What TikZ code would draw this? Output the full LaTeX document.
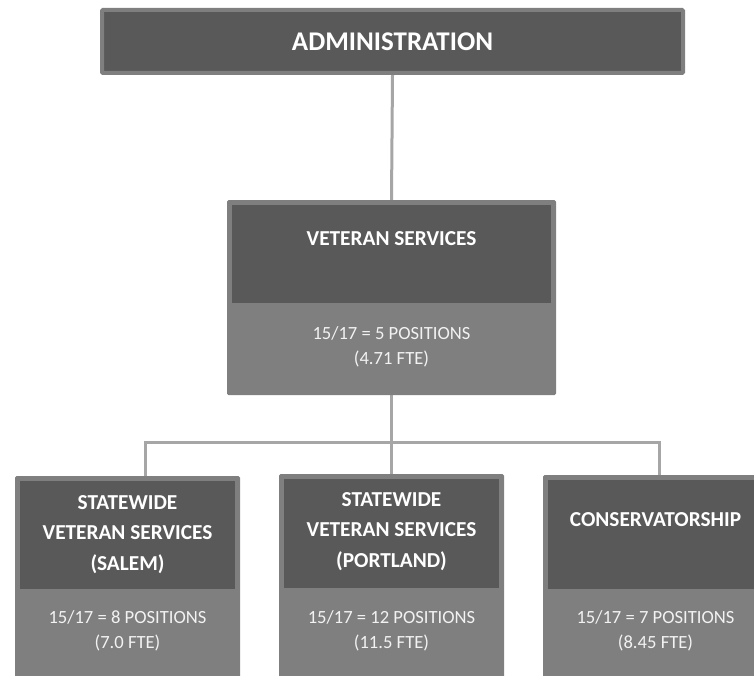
\documentclass[tikz,border=0pt]{standalone}
\usepackage{fontspec}
\setmainfont{Carlito}
\usetikzlibrary{positioning,backgrounds}
\definecolor{cdark}{HTML}{595959}
\definecolor{clight}{HTML}{7F7F7F}
\definecolor{cline}{HTML}{A6A6A6}
\definecolor{ctext}{HTML}{F2F2F2}

\begin{document}
\begin{tikzpicture}[x=1pt,y=-1pt,
  unitbox/.style={fill=clight,rounded corners=1.5pt,inner sep=0pt,anchor=north},
  headbox/.style={fill=cdark,inner sep=0pt},
  lbl/.style={text=white,font=\fontsize{21.3}{30.5}\selectfont\bfseries,align=center},
  stat/.style={text=ctext,font=\fontsize{18.6}{25}\selectfont,align=center},
  link/.style={draw=cline,line width=3pt}]
  \useasboundingbox (0,0) rectangle (754,676);
  \clip (0,0) rectangle (754,676);
  % top level
  \node[fill=cdark,draw=clight,line width=4pt,rounded corners=1pt,
        minimum width=581pt,minimum height=63pt,text=white,
        font=\fontsize{27}{30}\selectfont\bfseries] (admin) at (392.5,41.5) {ADMINISTRATION};
  % veteran services
  \node[unitbox,minimum width=329pt,minimum height=195pt] (vet) at (391.5,200) {};
  \node[headbox,minimum width=319pt,minimum height=98pt,below=5pt of vet.north] (vethead) {};
  \node[lbl] (vettitle) at ([yshift=-34pt]vethead.north) {VETERAN SERVICES};
  \node[stat] (vetstat) at ([yshift=-43pt]vethead.south) {15/17 = 5 POSITIONS\\(4.71 FTE)};
  % salem
  \node[unitbox,minimum width=225pt,minimum height=220pt] (salem) at (127.5,476) {};
  \node[headbox,minimum width=215pt,minimum height=108pt,below=5pt of salem.north] (salemhead) {};
  \node[lbl] (salemtitle) at ([yshift=-53.5pt]salemhead.north) {STATEWIDE\\VETERAN SERVICES\\(SALEM)};
  \node[stat] (salemstat) at ([yshift=-41pt]salemhead.south) {15/17 = 8 POSITIONS\\(7.0 FTE)};
  % portland
  \node[unitbox,minimum width=225pt,minimum height=220pt] (port) at (391.5,474) {};
  \node[headbox,minimum width=215pt,minimum height=109pt,below=5pt of port.north] (porthead) {};
  \node[lbl] (porttitle) at ([yshift=-52.5pt]porthead.north) {STATEWIDE\\VETERAN SERVICES\\(PORTLAND)};
  \node[stat] (portstat) at ([yshift=-42pt]porthead.south) {15/17 = 12 POSITIONS\\(11.5 FTE)};
  % conservatorship
  \node[unitbox,minimum width=225pt,minimum height=220pt] (cons) at (655.5,475) {};
  \node[headbox,minimum width=215pt,minimum height=109pt,below=5pt of cons.north] (conshead) {};
  \node[lbl] (constitle) at ([yshift=-40pt]conshead.north) {CONSERVATORSHIP};
  \node[stat] (consstat) at ([yshift=-41pt]conshead.south) {15/17 = 7 POSITIONS\\(8.45 FTE)};
  % connectors
  \coordinate (bus) at (391.5,442);
  \begin{scope}[on background layer]
    \draw[link] (admin.south) -- (vet.north);
    \draw[link] (vet.south) -- (port.north);
    \draw[link] ([xshift=17.5pt]salem.north) |- (bus) -| ([xshift=3.5pt]cons.north);
  \end{scope}
\end{tikzpicture}
\end{document}
